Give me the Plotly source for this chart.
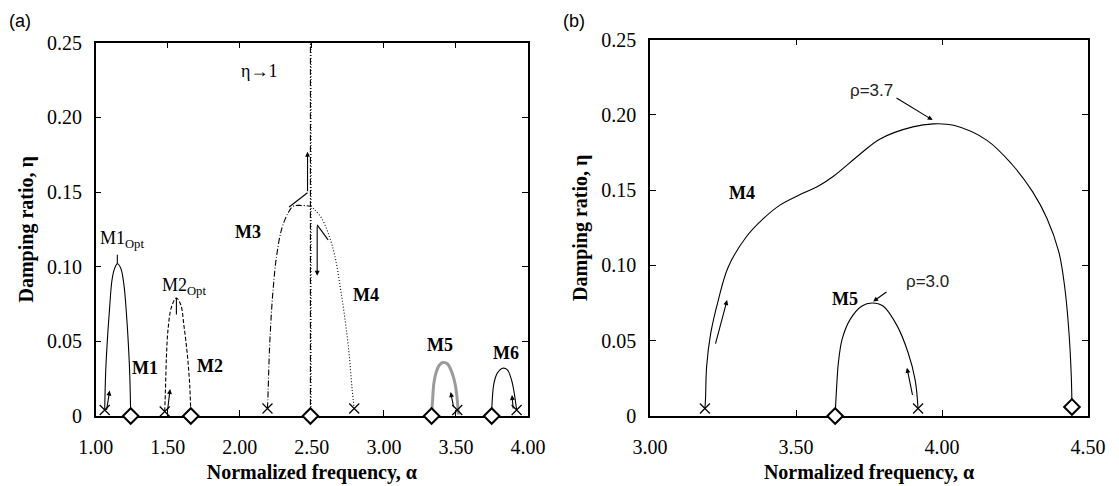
import plotly.graph_objects as go

# ---------------- Panel (a) data ----------------
m1_alpha = [1.0625, 1.069, 1.081, 1.097, 1.113, 1.132, 1.15, 1.174, 1.197, 1.213, 1.225, 1.236, 1.243]
m1_eta = [0.004, 0.0287, 0.051, 0.073, 0.091, 0.099, 0.102, 0.099, 0.087, 0.069, 0.051, 0.0287, 0.0]

m2_alpha = [1.479, 1.484, 1.491, 1.502, 1.526, 1.56, 1.59, 1.613, 1.637, 1.653, 1.66]
m2_eta = [0.003, 0.0175, 0.040, 0.058, 0.073, 0.079, 0.0745, 0.060, 0.040, 0.0197, 0.0]

m3_alpha = [2.192, 2.197, 2.204, 2.215, 2.231, 2.255, 2.29, 2.335, 2.37, 2.428, 2.49]
m3_eta = [0.005, 0.0175, 0.040, 0.062, 0.0846, 0.107, 0.125, 0.136, 0.1405, 0.141, 0.1405]

m4_alpha = [2.49, 2.521, 2.567, 2.613, 2.66, 2.70, 2.734, 2.76, 2.78, 2.794]
m4_eta = [0.1405, 0.138, 0.1326, 0.1226, 0.107, 0.0846, 0.062, 0.040, 0.0175, 0.005]

m5_alpha = [3.331, 3.338, 3.347, 3.361, 3.384, 3.41, 3.44, 3.47, 3.493, 3.509, 3.516]
m5_eta = [0.0, 0.011, 0.022, 0.0287, 0.034, 0.0358, 0.035, 0.0297, 0.022, 0.011, 0.001]

m6_alpha = [3.748, 3.752, 3.764, 3.787, 3.824, 3.856, 3.886, 3.905, 3.921]
m6_eta = [0.0, 0.011, 0.022, 0.0287, 0.032, 0.031, 0.024, 0.015, 0.004]

eta1_alpha = 2.49          # vertical asymptote (eta -> 1)
axis_eta = [0.0, 0.25]

cross_a_alpha = [1.0625, 1.479, 2.192, 2.794, 3.509, 3.921]
cross_a_eta = [0.004, 0.003, 0.005, 0.005, 0.004, 0.004]
diam_a_alpha = [1.243, 1.66, 2.49, 3.331, 3.748]
diam_a_eta = [0.0, 0.0, 0.0, 0.0, 0.0]

opt1_alpha = [1.15, 1.15]
opt1_eta = [0.102, 0.108]
opt2_alpha = [1.56, 1.56]
opt2_eta = [0.079, 0.068]

lead_up_alpha = [2.342, 2.47]
lead_up_eta = [0.140, 0.1495]
lead_dn_alpha = [2.537, 2.613]
lead_dn_eta = [0.128, 0.118]

# arrows: (tail alpha, tail eta, head alpha, head eta)
arrows_a = [
    (1.074, 0.003, 1.097, 0.017),
    (1.498, 0.003, 1.516, 0.018),
    (2.47, 0.1495, 2.47, 0.177),
    (2.537, 0.128, 2.537, 0.094),
    (3.486, 0.005, 3.463, 0.016),
    (3.898, 0.004, 3.889, 0.014),
]

labels_a_bold = [("M1", 1.34, 0.032), ("M2", 1.79, 0.0336), ("M3", 2.056, 0.123),
                 ("M4", 2.875, 0.081), ("M5", 3.39, 0.0477), ("M6", 3.847, 0.042)]
labels_a_reg = [("M1<sub>Opt</sub>", 1.18, 0.118), ("M2<sub>Opt</sub>", 1.61, 0.087),
                ("η→1", 2.13, 0.231)]

# ---------------- Panel (b) data ----------------
m4b_alpha = [3.188, 3.19, 3.194, 3.208, 3.234, 3.268, 3.33, 3.388, 3.445, 3.525, 3.58,
             3.627, 3.72, 3.788, 3.90, 3.97, 4.04, 4.154, 4.24, 4.31, 4.36, 4.40, 4.42,
             4.435, 4.443, 4.445]
m4b_eta = [0.005, 0.011, 0.033, 0.055, 0.077, 0.099, 0.119, 0.131, 0.140, 0.148, 0.153,
           0.159, 0.174, 0.184, 0.192, 0.194, 0.193, 0.183, 0.167, 0.149, 0.131, 0.109,
           0.086, 0.055, 0.025, 0.006]

m5b_alpha = [3.634, 3.64, 3.645, 3.658, 3.685, 3.726, 3.76, 3.798, 3.846, 3.884, 3.908, 3.918]
m5b_eta = [0.0, 0.022, 0.035, 0.051, 0.064, 0.073, 0.075, 0.073, 0.060, 0.042, 0.024, 0.005]

cross_b_alpha = [3.188, 3.918]
cross_b_eta = [0.005, 0.005]
diam_b_alpha = [3.634, 4.445]
diam_b_eta = [0.0, 0.006]

arrows_b = [
    (3.223, 0.047, 3.264, 0.077),
    (3.90, 0.013, 3.88, 0.032),
    (3.839, 0.2118, 3.968, 0.1965),
    (3.815, 0.083, 3.764, 0.076),
]
labels_b_bold = [("M4", 3.315, 0.148), ("M5", 3.668, 0.078)]
labels_b_sans = [("ρ=3.7", 3.759, 0.216), ("ρ=3.0", 3.952, 0.0894)]

x_ticks_a = [1.0, 1.5, 2.0, 2.5, 3.0, 3.5, 4.0]
x_ticks_b = [3.0, 3.5, 4.0, 4.5]
y_ticks = [0, 0.05, 0.10, 0.15, 0.20, 0.25]
y_tick_text = ["0", "0.05", "0.10", "0.15", "0.20", "0.25"]

SERIF = "Liberation Serif, Times New Roman, Times, serif"
SANS = "Liberation Sans, Arial, sans-serif"

fig = go.Figure()

def line(x, y, xa, ya, dash="solid", width=1.1, color="black", shape="spline"):
    ln = dict(color=color, width=width, dash=dash, shape=shape)
    if shape == "spline":
        ln["smoothing"] = 1.0
    fig.add_trace(go.Scatter(x=x, y=y, mode="lines", xaxis=xa, yaxis=ya, line=ln,
                             showlegend=False, hoverinfo="skip", cliponaxis=False))

# Panel (a) curves
line(m1_alpha, m1_eta, "x", "y")
line(m2_alpha, m2_eta, "x", "y", dash="4px,2px")
line(m3_alpha, m3_eta, "x", "y", dash="6px,2px,1px,2px")
line(m4_alpha, m4_eta, "x", "y", dash="1px,2px")
line(m5_alpha, m5_eta, "x", "y", width=3, color="#9a9a9a")
line(m6_alpha, m6_eta, "x", "y")
line([eta1_alpha, eta1_alpha], axis_eta, "x", "y", dash="6px,2px,1px,2px", shape="linear")
line([eta1_alpha + 0.004, eta1_alpha + 0.004], axis_eta, "x", "y", dash="1px,2px", shape="linear")
line(opt1_alpha, opt1_eta, "x", "y", shape="linear")
line(opt2_alpha, opt2_eta, "x", "y", shape="linear")
line(lead_up_alpha, lead_up_eta, "x", "y", shape="linear")
line(lead_dn_alpha, lead_dn_eta, "x", "y", shape="linear")

# Panel (b) curves
line(m4b_alpha, m4b_eta, "x2", "y2")
line(m5b_alpha, m5b_eta, "x2", "y2")

def markers(x, y, xa, ya, kind):
    if kind == "x":
        mk = dict(symbol="x-thin", size=10, color="black", line=dict(width=1.2, color="black"))
    else:
        mk = dict(symbol="diamond", size=12, color="white", line=dict(width=2, color="black"))
    fig.add_trace(go.Scatter(x=x, y=y, mode="markers", xaxis=xa, yaxis=ya, marker=mk,
                             showlegend=False, hoverinfo="skip", cliponaxis=False))

markers(cross_a_alpha, cross_a_eta, "x", "y", "x")
markers(diam_a_alpha, diam_a_eta, "x", "y", "d")
markers(cross_b_alpha, cross_b_eta, "x2", "y2", "x")
markers(diam_b_alpha, diam_b_eta, "x2", "y2", "d")

annotations = []
for (tx, ty, hx, hy) in arrows_a:
    annotations.append(dict(x=hx, y=hy, ax=tx, ay=ty, xref="x", yref="y", axref="x", ayref="y",
                            showarrow=True, arrowhead=2, arrowsize=0.9, arrowwidth=1.1,
                            arrowcolor="black", text=""))
for (tx, ty, hx, hy) in arrows_b:
    annotations.append(dict(x=hx, y=hy, ax=tx, ay=ty, xref="x2", yref="y2", axref="x2", ayref="y2",
                            showarrow=True, arrowhead=2, arrowsize=0.9, arrowwidth=1.1,
                            arrowcolor="black", text=""))
for (t, x, y) in labels_a_bold:
    annotations.append(dict(x=x, y=y, xref="x", yref="y", text=t, showarrow=False,
                            font=dict(family=SERIF, size=18, color="black", weight="bold")))
for (t, x, y) in labels_a_reg:
    annotations.append(dict(x=x, y=y, xref="x", yref="y", text=t, showarrow=False,
                            font=dict(family=SERIF, size=18, color="black")))
for (t, x, y) in labels_b_bold:
    annotations.append(dict(x=x, y=y, xref="x2", yref="y2", text=t, showarrow=False,
                            font=dict(family=SERIF, size=18, color="black", weight="bold")))
for (t, x, y) in labels_b_sans:
    annotations.append(dict(x=x, y=y, xref="x2", yref="y2", text=t, showarrow=False,
                            font=dict(family=SANS, size=17, color="#222")))
annotations.append(dict(x=20 / 1119, y=1 - 21 / 486, xref="paper", yref="paper", text="(a)",
                        xanchor="center", yanchor="middle", showarrow=False,
                        font=dict(family=SANS, size=18, color="black")))
annotations.append(dict(x=574 / 1119, y=1 - 21 / 486, xref="paper", yref="paper", text="(b)",
                        xanchor="center", yanchor="middle", showarrow=False,
                        font=dict(family=SANS, size=18, color="black")))

axis_common = dict(showline=True, linecolor="black", linewidth=1.5, mirror="ticks",
                   ticks="inside", ticklen=6, tickwidth=1, tickcolor="black",
                   showgrid=False, zeroline=False, layer="below traces", automargin=False,
                   tickfont=dict(family=SERIF, size=20, color="black"))
title_font = dict(family=SERIF, size=20, color="black", weight="bold")

fig.update_layout(
    width=1119, height=486,
    margin=dict(l=0, r=0, t=0, b=0, autoexpand=False),
    paper_bgcolor="white", plot_bgcolor="white",
    showlegend=False,
    annotations=annotations,
    xaxis=dict(domain=[95.7 / 1119, 528 / 1119], range=[1.0, 4.0], anchor="y",
               tickvals=x_ticks_a, ticktext=[f"{v:.2f}" for v in x_ticks_a],
               ticklabelstandoff=12,
               title=dict(text="Normalized frequency, α", font=title_font, standoff=8),
               **axis_common),
    yaxis=dict(domain=[(486 - 416) / 486, (486 - 42.7) / 486], range=[0, 0.25], anchor="x",
               tickvals=y_ticks, ticktext=y_tick_text, ticklabelstandoff=8,
               title=dict(text="Damping ratio, η", font=title_font, standoff=8),
               **axis_common),
    xaxis2=dict(domain=[650 / 1119, 1088 / 1119], range=[3.0, 4.5], anchor="y2",
                tickvals=x_ticks_b, ticktext=[f"{v:.2f}" for v in x_ticks_b],
                ticklabelstandoff=12,
                title=dict(text="Normalized frequency, α", font=title_font, standoff=8),
                **axis_common),
    yaxis2=dict(domain=[(486 - 416) / 486, (486 - 39.5) / 486], range=[0, 0.25], anchor="x2",
                tickvals=y_ticks, ticktext=y_tick_text, ticklabelstandoff=8,
                title=dict(text="Damping ratio, η", font=title_font, standoff=8),
                **axis_common),
)

fig.write_html("out.html")
